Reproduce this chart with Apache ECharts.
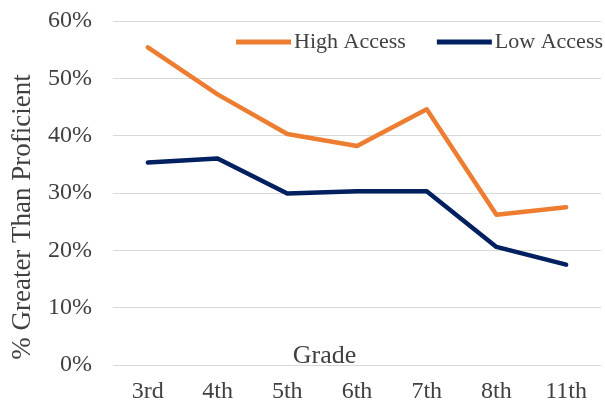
<!DOCTYPE html>
<html>
<head>
<meta charset="utf-8">
<script src="https://cdn.jsdelivr.net/npm/echarts@6/dist/echarts.min.js"></script>
<style>
  html, body { margin: 0; padding: 0; background: #fff; }
  #chart { width: 605px; height: 405px; }
</style>
</head>
<body>
<div id="chart"></div>
<script>
// Share of students scoring above proficient, by grade
const grades = ['3rd', '4th', '5th', '6th', '7th', '8th', '11th'];
const highAccess = [55.4, 47.2, 40.3, 38.2, 44.6, 26.2, 27.5];
const lowAccess = [35.3, 36.0, 29.9, 30.3, 30.3, 20.6, 17.5];
const yTicks = [0, 10, 20, 30, 40, 50, 60];

const serif = '"Liberation Serif", "Times New Roman", serif';
const textColor = '#404040';

const chart = echarts.init(document.getElementById('chart'));
chart.setOption({
  animation: false,
  textStyle: { fontFamily: serif },
  grid: { left: 113, right: 4, top: 21, bottom: 40, containLabel: false },
  legend: {
    right: -3, top: 26,
    itemWidth: 55, itemHeight: 5, itemGap: 31,
    icon: 'rect',
    textStyle: { fontFamily: serif, fontSize: 22, color: textColor, padding: [0, 0, 0, -2] },
    data: ['High Access', 'Low Access']
  },
  xAxis: {
    type: 'category',
    data: grades,
    boundaryGap: true,
    axisLine: { show: false },
    axisTick: { show: false },
    axisLabel: { fontFamily: serif, fontSize: 24, color: textColor, margin: 15 }
  },
  yAxis: {
    type: 'value',
    min: yTicks[0], max: yTicks[yTicks.length - 1], interval: 10,
    axisLine: { show: false },
    axisTick: { show: false },
    axisLabel: { fontFamily: serif, fontSize: 24, color: textColor, margin: 21, formatter: '{value}%' },
    splitLine: { lineStyle: { color: '#d9d9d9', width: 1 } }
  },
  graphic: [
    {
      type: 'text',
      x: 23, y: 217, rotation: Math.PI / 2,
      style: {
        text: '% Greater Than Proficient', font: '27px ' + serif, fill: textColor,
        align: 'center', verticalAlign: 'middle'
      }
    },
    {
      type: 'text',
      x: 324.5, y: 356,
      style: { text: 'Grade', font: '26px ' + serif, fill: textColor, align: 'center', verticalAlign: 'middle' }
    }
  ],
  series: [
    {
      name: 'High Access', type: 'line', data: highAccess,
      symbol: 'none', lineStyle: { color: '#ED7D31', width: 4.5, cap: 'round', join: 'round' },
      itemStyle: { color: '#ED7D31' }
    },
    {
      name: 'Low Access', type: 'line', data: lowAccess,
      symbol: 'none', lineStyle: { color: '#002060', width: 4.5, cap: 'round', join: 'round' },
      itemStyle: { color: '#002060' }
    }
  ]
});
</script>
</body>
</html>
